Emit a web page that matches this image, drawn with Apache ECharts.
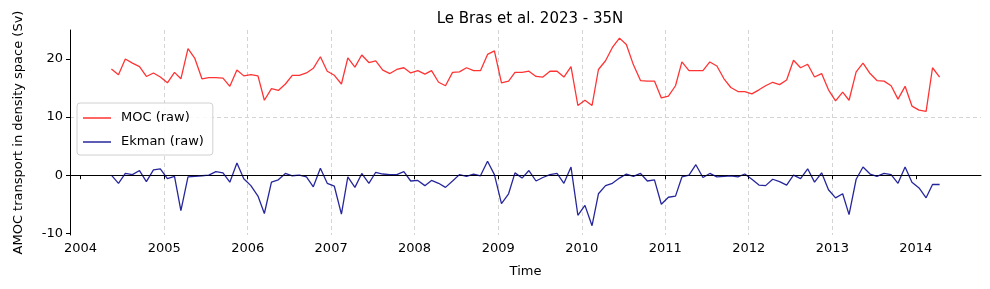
<!DOCTYPE html>
<html>
<head>
<meta charset="UTF-8">
<title>Le Bras et al. 2023 - 35N</title>
<script src="https://cdn.jsdelivr.net/npm/echarts@6/dist/echarts.min.js"></script>
<style>
  html, body { margin: 0; padding: 0; background: #fff; }
</style>
</head>
<body>
<div id="main" style="width: 990px; height: 289px;"></div>
<script type="text/javascript">
// monthly values, first month = May 2004
var startYear = 2004, startMonth = 4;
var mocRaw = [
  18.3, 17.3, 20.0, 19.3, 18.7, 17.0, 17.6, 16.9, 15.9, 17.7, 16.6, 21.8,
  20.1, 16.6, 16.8, 16.8, 16.7, 15.3, 18.1, 17.1, 17.3, 17.1, 12.9, 14.9,
  14.6, 15.7, 17.2, 17.2, 17.6, 18.4, 20.4, 17.9, 17.2, 15.7, 20.2, 18.6,
  20.7, 19.4, 19.7, 18.1, 17.5, 18.2, 18.5, 17.6, 18.0, 17.4, 18.0, 16.0,
  15.4, 17.7, 17.8, 18.5, 18.0, 18.0, 20.8, 21.4, 15.9, 16.2, 17.7, 17.7,
  17.9, 17.0, 16.9, 17.9, 17.9, 16.9, 18.7, 12.0, 12.9, 12.0, 18.2, 19.7,
  22.0, 23.6, 22.5, 19.0, 16.3, 16.2, 16.2, 13.3, 13.6, 15.4, 19.5, 18.0,
  18.0, 18.0, 19.5, 18.8, 16.6, 15.1, 14.4, 14.4, 14.0, 14.7, 15.4, 16.0,
  15.6, 16.4, 19.8, 18.5, 19.1, 16.9, 17.5, 14.7, 12.8, 14.3, 12.9, 17.8,
  19.3, 17.5, 16.3, 16.2, 15.4, 13.1, 15.3, 11.9, 11.2, 11.0, 18.5, 16.9
];
var ekmanRaw = [
  0.0, -1.4, 0.3, 0.1, 0.8, -1.1, 0.9, 1.1, -0.6, -0.2, -6.1, -0.3,
  -0.2, -0.1, 0.0, 0.6, 0.4, -1.2, 2.1, -0.6, -1.8, -3.6, -6.6, -1.2,
  -0.8, 0.3, -0.1, 0.0, -0.3, -2.0, 1.2, -1.4, -1.9, -6.7, -0.3, -2.1,
  0.3, -1.4, 0.5, 0.2, 0.1, 0.1, 0.6, -1.0, -0.9, -1.8, -0.9, -1.4,
  -2.1, -1.0, 0.1, -0.2, 0.2, -0.1, 2.4, 0.1, -4.9, -3.2, 0.4, -0.5,
  0.8, -1.0, -0.4, 0.1, 0.3, -1.4, 1.4, -6.9, -5.2, -8.7, -3.2, -1.8,
  -1.4, -0.5, 0.2, -0.2, 0.3, -1.0, -0.8, -5.0, -3.8, -3.6, -0.3, 0.0,
  1.8, -0.4, 0.3, -0.3, -0.2, -0.1, -0.3, 0.2, -0.7, -1.7, -1.8, -0.7,
  -1.1, -1.7, 0.0, -0.6, 1.1, -1.2, 0.4, -2.5, -3.9, -3.2, -6.8, -0.7,
  1.4, 0.2, -0.2, 0.3, 0.1, -1.4, 1.4, -1.2, -2.2, -3.9, -1.6, -1.6
];
var yearTicks = [2004, 2005, 2006, 2007, 2008, 2009, 2010, 2011, 2012, 2013, 2014];
var yTicks = [-10, 0, 10, 20];

var fontFam = 'DejaVu Sans';
var mocColor = 'rgba(255,0,0,0.8)';
var ekmanColor = 'rgba(0,0,139,0.85)';
function monthDate(k) {
    return Date.UTC(startYear, startMonth + k, 15);
}
var mocData = [], ekmanData = [];
for (var i = 0; i < mocRaw.length; i++) {
    mocData.push([monthDate(i), mocRaw[i]]);
    ekmanData.push([monthDate(i), ekmanRaw[i]]);
}
var xTickValues = yearTicks.map(function (y) { return Date.UTC(y, 0, 1); });

var myChart = echarts.init(document.getElementById('main'), null, { renderer: 'canvas' });

var option = {
    animation: false,
    title: {
        text: 'Le Bras et al. 2023 - 35N',
        left: 525,
        textAlign: 'center',
        top: 7,
        textStyle: { fontFamily: fontFam, fontSize: 15, fontWeight: 'normal', color: '#000' }
    },
    legend: {
        orient: 'vertical',
        left: 77,
        top: 103,
        data: ['MOC (raw)', 'Ekman (raw)'],
        icon: 'rect',
        backgroundColor: 'rgba(255,255,255,0.85)',
        borderColor: '#d0d0d0',
        borderWidth: 1,
        borderRadius: 3,
        padding: [7, 9, 5, 6],
        itemGap: 8,
        itemWidth: 28,
        itemHeight: 1.5,
        textStyle: { fontFamily: fontFam, fontSize: 13, color: '#000', padding: [0, 0, 0, 5], lineHeight: 16 }
    },
    grid: { left: 70, right: 9, top: 30, bottom: 54 },
    xAxis: {
        type: 'value',
        min: Date.UTC(2003, 10, 16),
        max: Date.UTC(2014, 9, 13),
        name: 'Time',
        nameLocation: 'middle',
        nameGap: 30,
        nameTextStyle: { fontFamily: fontFam, fontSize: 13, color: '#000' },
        axisLine: { lineStyle: { color: '#000', width: 1 } },
        axisTick: { show: true, length: 4, customValues: xTickValues, lineStyle: { color: '#000' } },
        axisLabel: {
            customValues: xTickValues,
            margin: 7,
            fontFamily: fontFam, fontSize: 13, color: '#000',
            formatter: function (v) { return String(new Date(v).getUTCFullYear()); }
        },
        splitLine: { show: true, showMinLine: false, showMaxLine: false, lineStyle: { color: '#d4d4d4', type: [4, 3], width: 1 } }
    },
    yAxis: {
        type: 'value',
        min: -10.3,
        max: 25.0,
        name: 'AMOC transport in density space (Sv)',
        nameLocation: 'middle',
        nameGap: 45,
        nameRotate: 90,
        nameTextStyle: { fontFamily: fontFam, fontSize: 13, color: '#000' },
        axisLine: { show: true, lineStyle: { color: '#000', width: 1 } },
        axisTick: { show: true, length: 4, customValues: yTicks, lineStyle: { color: '#000' } },
        axisLabel: { customValues: yTicks, margin: 7, fontFamily: fontFam, fontSize: 13, color: '#000' },
        splitLine: { show: true, showMinLine: false, showMaxLine: false, lineStyle: { color: '#d4d4d4', type: [4, 3], width: 1 } }
    },
    series: [{
        name: 'MOC (raw)',
        type: 'line',
        data: mocData,
        showSymbol: false,
        symbol: 'none',
        color: mocColor,
        lineStyle: { width: 1.3, color: mocColor }
    }, {
        name: 'Ekman (raw)',
        type: 'line',
        data: ekmanData,
        showSymbol: false,
        symbol: 'none',
        color: ekmanColor,
        lineStyle: { width: 1.3, color: ekmanColor },
        markLine: {
            silent: true,
            symbol: 'none',
            label: { show: false },
            lineStyle: { color: '#000', type: [3, 2], width: 0.8 },
            data: [{ yAxis: 0 }]
        }
    }]
};
myChart.setOption(option);
</script>
</body>
</html>
